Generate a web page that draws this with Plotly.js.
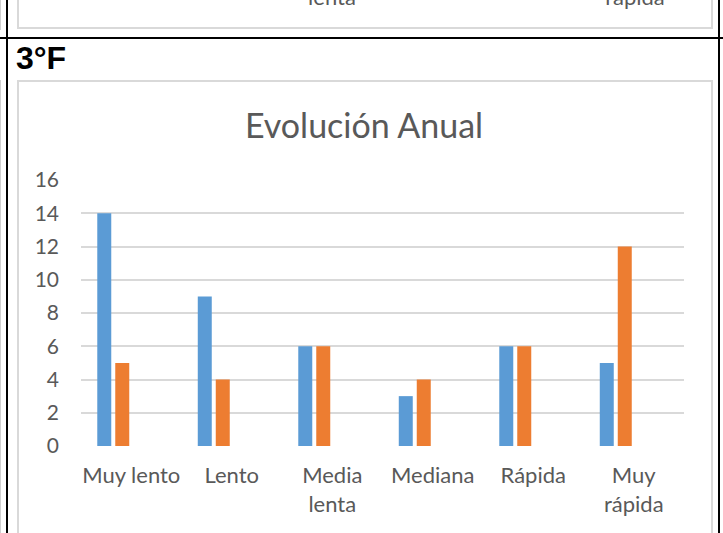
<!DOCTYPE html>
<html>
<head>
<meta charset="utf-8">
<script src="https://cdn.plot.ly/plotly-3.0.1.min.js"></script>
<style>
  html, body { margin: 0; padding: 0; width: 723px; height: 533px; overflow: hidden; background: #ffffff; }
  .abs { position: absolute; }
  #chart { position: absolute; left: 0; top: 0; width: 723px; height: 533px; }
  .prevlbl { position: absolute; width: 120px; text-align: center; font-family: Lato, sans-serif; font-size: 22px; line-height: 26px; color: #595959; }
</style>
</head>
<body>
<!-- previous chart box (cut off at the top) -->
<div class="abs" style="left:17px; top:-10px; width:692px; height:37px; border:2px solid #D9D9D9; border-top:none;"></div>
<div class="prevlbl" style="left:272px; top:-16px;">lenta</div>
<div class="prevlbl" style="left:575px; top:-16px;">rápida</div>
<!-- table lines -->
<div class="abs" style="left:0; top:37px; width:723px; height:2px; background:#000;"></div>
<div class="abs" style="left:6px; top:0; width:2px; height:533px; background:#000;"></div>
<div class="abs" style="left:718px; top:0; width:2px; height:533px; background:#000;"></div>
<div class="abs" style="left:0; top:0; width:1px; height:30px; background:#cfcfcf;"></div>
<div class="abs" style="left:0; top:80px; width:1px; height:453px; background:#cfcfcf;"></div>
<!-- section label -->
<div class="abs" style="left:16px; top:39px; font-family:'Liberation Sans', Arial, sans-serif; font-weight:bold; font-size:32px; line-height:38px; color:#000;">3°F</div>
<!-- chart box -->
<div class="abs" style="left:17px; top:80px; width:692px; height:470px; border:2px solid #D9D9D9;"></div>
<div id="chart"></div>
<script>
// ---- data ----
const categories = ['Muy lento', 'Lento', 'Media lenta', 'Mediana', 'Rápida', 'Muy rápida'];
const tickLabels = ['Muy lento', 'Lento', 'Media<br>lenta', 'Mediana', 'Rápida', 'Muy<br>rápida'];
const serie1 = [14, 9, 6, 3, 6, 5];
const serie2 = [5, 4, 6, 4, 6, 12];
const serie3 = [null, null, null, null, null, null];
const serie4 = [null, null, null, null, null, null];
const chartTitle = 'Evolución Anual';
const yTicks = [0, 2, 4, 6, 8, 10, 12, 14, 16];

const FONT = 'Lato, Carlito, sans-serif';
const traces = [
  { type: 'bar', x: categories, y: serie1, name: 'Serie 1', marker: { color: '#5B9BD5' } },
  { type: 'bar', x: categories, y: serie2, name: 'Serie 2', marker: { color: '#ED7D31' } },
  { type: 'bar', x: categories, y: serie3, name: 'Serie 3', marker: { color: '#A5A5A5' } },
  { type: 'bar', x: categories, y: serie4, name: 'Serie 4', marker: { color: '#FFC000' } }
];

const layout = {
  width: 723, height: 533,
  margin: { l: 81, r: 39, t: 180, b: 87, pad: 0 },
  paper_bgcolor: 'rgba(0,0,0,0)',
  plot_bgcolor: 'rgba(0,0,0,0)',
  showlegend: false,
  barmode: 'group',
  bargap: 0.284,
  bargroupgap: 0.222,
  font: { family: FONT, size: 20, color: '#595959' },
  title: {
    text: chartTitle,
    font: { family: FONT, size: 34, color: '#595959' },
    xref: 'container', x: 364 / 723, xanchor: 'center',
    yref: 'container', y: 1 - 126 / 533, yanchor: 'middle'
  },
  xaxis: {
    type: 'category',
    tickvals: categories,
    ticktext: tickLabels,
    showgrid: false, zeroline: false, showline: false,
    ticks: '', ticklabelstandoff: 14,
    tickfont: { family: FONT, size: 22, color: '#595959' }
  },
  yaxis: {
    range: [0, 16],
    tickvals: yTicks,
    showgrid: true, gridcolor: '#D9D9D9', gridwidth: 2,
    zeroline: false, showline: false,
    ticks: '', ticklabelstandoff: 21,
    tickfont: { family: FONT, size: 21, color: '#595959' }
  }
};

Plotly.newPlot('chart', traces, layout, { displayModeBar: false, staticPlot: true });
</script>
</body>
</html>
